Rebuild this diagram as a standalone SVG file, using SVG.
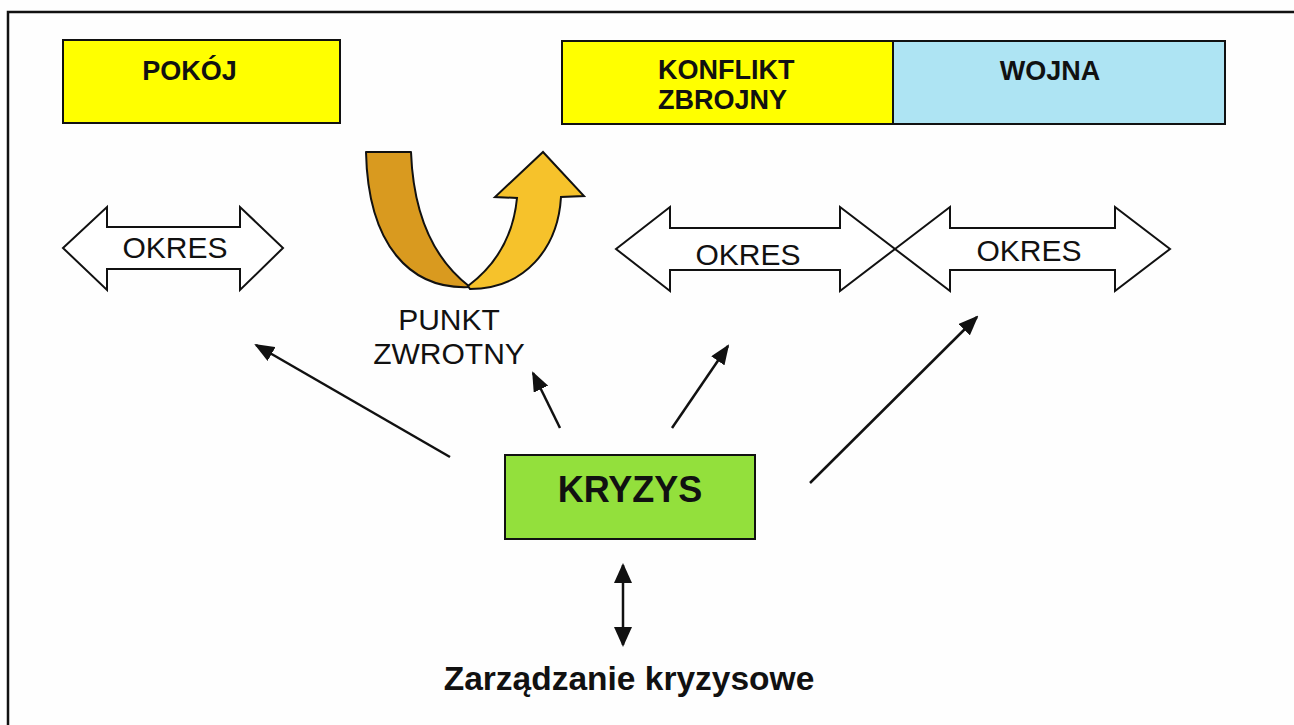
<svg xmlns="http://www.w3.org/2000/svg" width="1294" height="725" viewBox="0 0 1294 725">
  <style>
    .frame { fill: none; stroke: #111; stroke-width: 2.5; }
    .box { stroke: #111; stroke-width: 2; }
    .label { font-family: "Liberation Sans", Arial, sans-serif; font-weight: bold; fill: #111; }
    .plain { font-family: "Liberation Sans", Arial, sans-serif; fill: #111; }
    .period { fill: #fff; stroke: #111; stroke-width: 2; stroke-linejoin: miter; }
    .link { stroke: #111; stroke-width: 2.5; fill: none; }
  </style>
  <defs>
    <marker id="head" viewBox="0 0 20 16" refX="18" refY="8" markerWidth="20" markerHeight="16" markerUnits="userSpaceOnUse" orient="auto-start-reverse">
      <path d="M0,0 L20,8 L0,16 Z" fill="#111"/>
    </marker>
    <marker id="headWide" viewBox="0 0 20 18" refX="18" refY="9" markerWidth="20" markerHeight="18" markerUnits="userSpaceOnUse" orient="auto-start-reverse">
      <path d="M0,0 L20,9 L0,18 Z" fill="#111"/>
    </marker>
  </defs>

  <rect width="1294" height="725" fill="#fefefe"/>

  <!-- page frame: top and left edges -->
  <path class="frame" d="M1294,12 L8,12 L8,725"/>

  <!-- state boxes -->
  <g id="pokoj">
    <rect class="box" x="63" y="40" width="277" height="83" fill="#ffff00"/>
    <text class="label" x="189.5" y="80" font-size="27" text-anchor="middle">POKÓJ</text>
  </g>
  <g id="konflikt">
    <rect class="box" x="562" y="41" width="331" height="83" fill="#ffff00"/>
    <text class="label" x="658" y="79" font-size="27">KONFLIKT</text>
    <text class="label" x="658" y="109" font-size="27">ZBROJNY</text>
  </g>
  <g id="wojna">
    <rect class="box" x="893" y="41" width="332" height="83" fill="#aee4f3"/>
    <text class="label" x="1050" y="80" font-size="27" text-anchor="middle">WOJNA</text>
  </g>

  <!-- period arrows -->
  <g id="okres-1">
    <polygon class="period" points="63,248 107,207 107,227 240,227 240,207 283,248 240,290 240,269 107,269 107,290"/>
    <text class="plain" x="175" y="258" font-size="30" text-anchor="middle">OKRES</text>
  </g>
  <g id="okres-2">
    <polygon class="period" points="616,249 670,207 670,228 840,228 840,207 895,249 840,291 840,270 670,270 670,291"/>
    <text class="plain" x="748" y="265" font-size="30" text-anchor="middle">OKRES</text>
  </g>
  <g id="okres-3">
    <polygon class="period" points="895,249 950,207 950,228 1115,228 1115,207 1170,249 1115,291 1115,270 950,270 950,291"/>
    <text class="plain" x="1029" y="261" font-size="30" text-anchor="middle">OKRES</text>
  </g>

  <!-- turning point: U-shaped arrow -->
  <g id="punkt-zwrotny">
    <path d="M366,152 L411,152 C413,205 428,255 470,287 C410,290 368,245 366,152 Z" fill="#d99a1f" stroke="#111" stroke-width="2" stroke-linejoin="round"/>
    <path d="M468,286 C492,268 513,240 517,198 L495,197 L543,152 L584,196 L561,197 C558,248 525,289 470,289 Z" fill="#f6c22b" stroke="#111" stroke-width="2" stroke-linejoin="miter"/>
    <text class="plain" x="449" y="330" font-size="30" text-anchor="middle">PUNKT</text>
    <text class="plain" x="449" y="364" font-size="30" text-anchor="middle">ZWROTNY</text>
  </g>

  <!-- crisis -->
  <g id="kryzys">
    <rect class="box" x="505" y="455" width="250" height="84" fill="#93e03c"/>
    <text class="label" x="630" y="502" font-size="36" text-anchor="middle">KRYZYS</text>
  </g>

  <g id="zarzadzanie">
    <text class="label" x="629" y="690" font-size="33.5" text-anchor="middle">Zarządzanie kryzysowe</text>
  </g>

  <!-- connectors -->
  <g id="connectors">
    <line class="link" x1="450" y1="457" x2="256" y2="345" marker-end="url(#head)"/>
    <line class="link" x1="560" y1="428" x2="533" y2="373" marker-end="url(#head)"/>
    <line class="link" x1="672" y1="428" x2="728" y2="346" marker-end="url(#head)"/>
    <line class="link" x1="810" y1="483" x2="977" y2="317" marker-end="url(#head)"/>
    <line class="link" x1="623" y1="565" x2="623" y2="645" stroke-width="3" marker-start="url(#headWide)" marker-end="url(#headWide)"/>
  </g>
</svg>
